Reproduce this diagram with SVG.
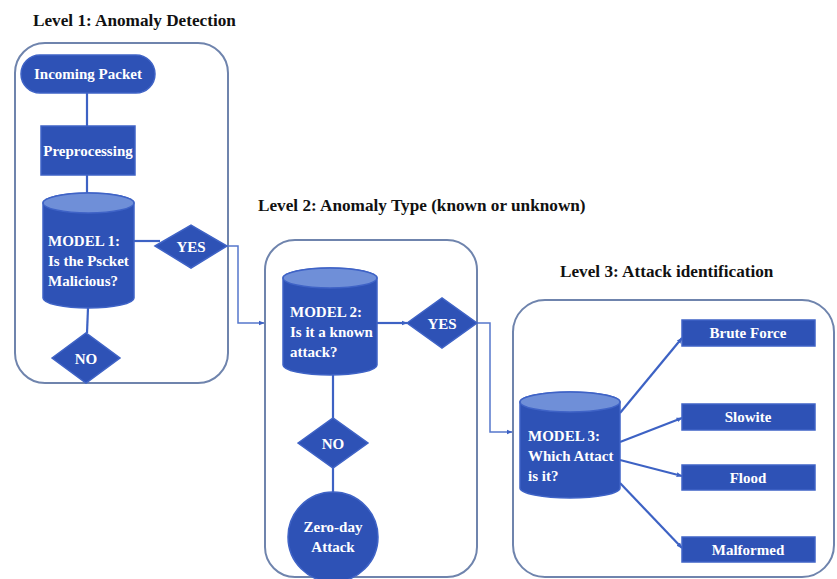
<svg xmlns="http://www.w3.org/2000/svg" width="837" height="579" viewBox="0 0 837 579">
  <defs>
    <marker id="arrow" viewBox="0 0 10 10" refX="9" refY="5" markerWidth="6" markerHeight="6" orient="auto" markerUnits="userSpaceOnUse">
      <path d="M0,1 L10,5 L0,9 Z" fill="#3d62c4"/>
    </marker>
    <style>
      .title { font-family: "Liberation Serif", "Times New Roman", serif; font-weight: bold; font-size: 17.2px; fill: #111; }
      .lbl { font-family: "Liberation Serif", "Times New Roman", serif; font-weight: bold; font-size: 15px; fill: #fff; }
      .box { fill: #ffffff; stroke: #6f84ad; stroke-width: 2; }
      .shape { fill: #2e52b6; stroke: #3f63c6; stroke-width: 1.5; }
      .cyltop { fill: #6f8fd8; stroke: #3f63c6; stroke-width: 1.5; }
      .conn { fill: none; stroke: #3d62c4; stroke-width: 2.2; }
      .thin { fill: none; stroke: #5577cc; stroke-width: 1.5; }
    </style>
  </defs>
  <rect width="837" height="579" fill="#ffffff"/>

  <!-- Stage containers and headings -->
  <g id="level1">
    <rect class="box" x="15" y="43" width="213" height="340" rx="30"/>
    <text class="title" x="33" y="26">Level 1: Anomaly Detection</text>
  </g>
  <g id="level2">
    <rect class="box" x="265" y="240" width="212" height="337" rx="30"/>
    <text class="title" x="258" y="211">Level 2: Anomaly Type (known or unknown)</text>
  </g>
  <g id="level3">
    <rect class="box" x="513" y="300" width="321" height="277" rx="32"/>
    <text class="title" x="560" y="277">Level 3: Attack identification</text>
  </g>

  <!-- Connectors -->
  <g id="connectors">
    <line class="conn" x1="87" y1="93" x2="87" y2="126"/>
    <line class="conn" x1="87" y1="175" x2="87" y2="193"/>
    <line class="conn" x1="134" y1="241" x2="160" y2="241"/>
    <line class="conn" x1="88" y1="308" x2="87" y2="333"/>
    <polyline class="thin" points="227,246 238,246 238,323 264,323" marker-end="url(#arrow)"/>
    <line class="conn" x1="377" y1="323" x2="407" y2="323" marker-end="url(#arrow)"/>
    <line class="conn" x1="333" y1="375" x2="333" y2="418"/>
    <line class="conn" x1="333" y1="468" x2="333" y2="492"/>
    <polyline class="thin" points="477,323 490,323 490,432 512,432" marker-end="url(#arrow)"/>
    <line class="conn" x1="620" y1="413" x2="682" y2="338" marker-end="url(#arrow)"/>
    <line class="conn" x1="620" y1="442" x2="682" y2="418" marker-end="url(#arrow)"/>
    <line class="conn" x1="620" y1="460" x2="682" y2="476" marker-end="url(#arrow)"/>
    <line class="conn" x1="620" y1="483" x2="682" y2="548" marker-end="url(#arrow)"/>
  </g>

  <!-- Level 1 nodes -->
  <g id="incoming-packet">
    <rect class="shape" x="21" y="55" width="134" height="38" rx="19"/>
    <text class="lbl" x="88" y="79" text-anchor="middle">Incoming Packet</text>
  </g>
  <g id="preprocessing">
    <rect class="shape" x="41" y="126" width="94" height="49"/>
    <text class="lbl" x="88" y="156" text-anchor="middle">Preprocessing</text>
  </g>
  <g id="model1">
    <path class="shape" d="M43,203 A45.5,10 0 0 1 134,203 V298 A45.5,10 0 0 1 43,298 Z"/>
    <ellipse class="cyltop" cx="88.5" cy="203" rx="45.5" ry="10"/>
    <text class="lbl" x="48" y="246">MODEL 1:</text>
    <text class="lbl" x="48" y="266">Is the Pscket</text>
    <text class="lbl" x="48" y="286">Malicious?</text>
  </g>
  <g id="yes1">
    <polygon class="shape" points="155,246 191,225 227,246 191,268"/>
    <text class="lbl" x="191" y="252" text-anchor="middle">YES</text>
  </g>
  <g id="no1">
    <polygon class="shape" points="52,358 86,333 120,358 86,383"/>
    <text class="lbl" x="86" y="364" text-anchor="middle">NO</text>
  </g>

  <!-- Level 2 nodes -->
  <g id="model2">
    <path class="shape" d="M283,278 A47,10 0 0 1 377,278 V365 A47,10 0 0 1 283,365 Z"/>
    <ellipse class="cyltop" cx="330" cy="278" rx="47" ry="10"/>
    <text class="lbl" x="290" y="317">MODEL 2:</text>
    <text class="lbl" x="290" y="337">Is it a known</text>
    <text class="lbl" x="290" y="357">attack?</text>
  </g>
  <g id="yes2">
    <polygon class="shape" points="407,323 442,298 477,323 442,348"/>
    <text class="lbl" x="442" y="329" text-anchor="middle">YES</text>
  </g>
  <g id="no2">
    <polygon class="shape" points="298,443 333,418 368,443 333,468"/>
    <text class="lbl" x="333" y="449" text-anchor="middle">NO</text>
  </g>
  <g id="zero-day">
    <circle class="shape" cx="333" cy="537" r="45"/>
    <text class="lbl" x="333" y="532" text-anchor="middle">Zero-day</text>
    <text class="lbl" x="333" y="552" text-anchor="middle">Attack</text>
  </g>

  <!-- Level 3 nodes -->
  <g id="model3">
    <path class="shape" d="M520,402 A50,10 0 0 1 620,402 V488 A50,10 0 0 1 520,488 Z"/>
    <ellipse class="cyltop" cx="570" cy="402" rx="50" ry="10"/>
    <text class="lbl" x="528" y="441">MODEL 3:</text>
    <text class="lbl" x="528" y="461">Which Attact</text>
    <text class="lbl" x="528" y="481">is it?</text>
  </g>
  <g id="brute-force">
    <rect class="shape" x="682" y="320" width="133" height="26"/>
    <text class="lbl" x="748" y="338" text-anchor="middle">Brute Force</text>
  </g>
  <g id="slowite">
    <rect class="shape" x="682" y="404" width="133" height="26"/>
    <text class="lbl" x="748" y="422" text-anchor="middle">Slowite</text>
  </g>
  <g id="flood">
    <rect class="shape" x="682" y="465" width="133" height="25"/>
    <text class="lbl" x="748" y="483" text-anchor="middle">Flood</text>
  </g>
  <g id="malformed">
    <rect class="shape" x="682" y="537" width="133" height="25"/>
    <text class="lbl" x="748" y="555" text-anchor="middle">Malformed</text>
  </g>
</svg>
